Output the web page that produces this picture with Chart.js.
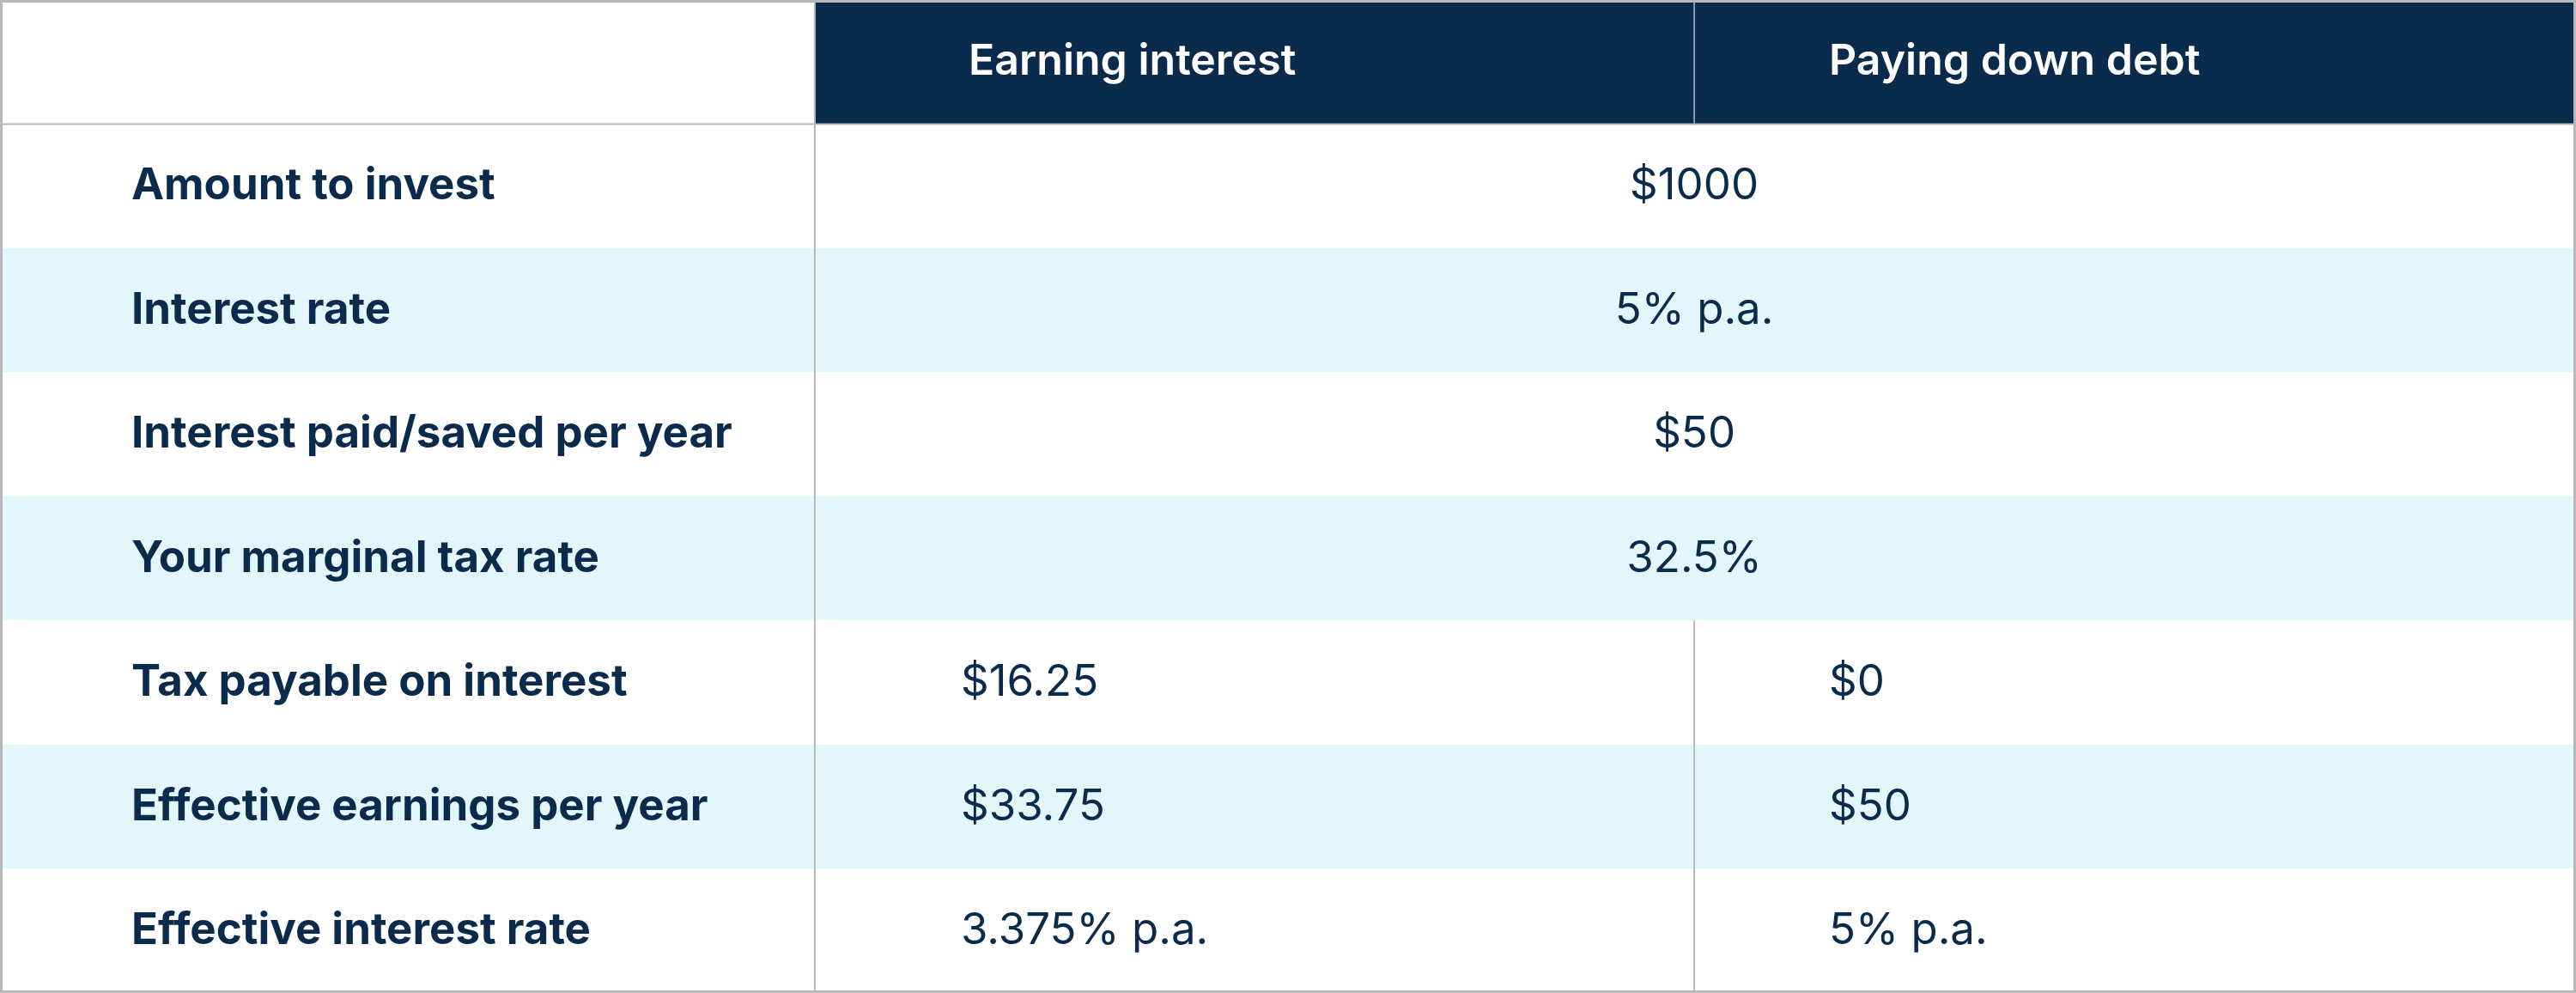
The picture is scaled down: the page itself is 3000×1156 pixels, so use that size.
<!DOCTYPE html>
<html><head><meta charset="utf-8">
<script src="https://cdn.jsdelivr.net/npm/chart.js@4"></script>
<style>html,body{margin:0;padding:0;background:#fff}#w{width:3000px;height:1156px}</style>
</head><body><div id="w"><canvas id="c"></canvas></div>
<script>
const rowLabels = ["Amount to invest","Interest rate","Interest paid/saved per year","Your marginal tax rate","Tax payable on interest","Effective earnings per year","Effective interest rate"];
const columnHeaders = ["Earning interest","Paying down debt"];
const earningValues = ["$1000","5% p.a.","$50","32.5%","$16.25","$33.75","3.375% p.a."];
const debtValues = [null,null,null,null,"$0","$50","5% p.a."];
const colEdges = [0, 0.3163, 0.6577, 1];
const NAVY = "#0b2b4c", LIGHT = "#e3f6fa", GRID = "#b8b8b8";
const cats = ["header", ...rowLabels];
const bg = cats.map((c,i)=> i===0 ? "#ffffff" : (i%2===0 ? LIGHT : "#ffffff"));
new Chart(document.getElementById("c"), {
  type: "bar",
  data: { labels: cats, datasets: [
    { data: cats.map(()=>[0,1]), backgroundColor: bg, grouped:false, categoryPercentage:1, barPercentage:1, order:2 },
    { data: cats.map((c,i)=> i===0 ? [colEdges[1],1] : null), backgroundColor: NAVY, grouped:false, categoryPercentage:1, barPercentage:1, order:1 }
  ]},
  options: {
    indexAxis: "y", responsive:true, maintainAspectRatio:false, animation:false,
    layout:{padding:0},
    plugins:{legend:{display:false}, tooltip:{enabled:false}},
    scales:{ x:{type:"linear",min:0,max:1,display:false}, y:{display:false, offset:true} }
  },
  plugins:[{ id:"table", afterDatasetsDraw(chart){
    const ctx = chart.ctx, xs = chart.scales.x, ys = chart.scales.y, ca = chart.chartArea;
    const band = (ys.getPixelForValue(1)-ys.getPixelForValue(0));
    const top = i => ys.getPixelForValue(i)-band/2;
    ctx.save();
    ctx.textBaseline = "middle";
    ctx.fillStyle = "#ffffff"; ctx.font = "600 50px Inter"; ctx.textAlign="left";
    ctx.fillText(columnHeaders[0], xs.getPixelForValue(0.376), ys.getPixelForValue(0));
    ctx.fillText(columnHeaders[1], xs.getPixelForValue(0.71), ys.getPixelForValue(0));
    rowLabels.forEach((l,k)=>{
      const i=k+1, y=ys.getPixelForValue(i);
      ctx.fillStyle = NAVY; ctx.font="700 51px Inter"; ctx.textAlign="left";
      ctx.fillText(l, xs.getPixelForValue(0.051), y);
      ctx.font="400 51px Inter";
      if (debtValues[k]===null){ ctx.textAlign="center"; ctx.fillText(earningValues[k], xs.getPixelForValue(colEdges[2]), y); }
      else { ctx.textAlign="left"; ctx.fillText(earningValues[k], xs.getPixelForValue(0.373), y); ctx.fillText(debtValues[k], xs.getPixelForValue(0.71), y); }
    });
    ctx.lineWidth = 2; ctx.strokeStyle = GRID;
    const x1 = xs.getPixelForValue(colEdges[1]), x2 = xs.getPixelForValue(colEdges[2]);
    ctx.beginPath(); ctx.moveTo(x1, ca.top); ctx.lineTo(x1, ca.bottom); ctx.stroke();
    ctx.beginPath(); ctx.moveTo(x2, top(5)); ctx.lineTo(x2, ca.bottom); ctx.stroke();
    ctx.beginPath(); ctx.moveTo(ca.left, top(1)); ctx.lineTo(ca.right, top(1)); ctx.stroke();
    ctx.strokeStyle = "#8a9bb0";
    ctx.beginPath(); ctx.moveTo(x2, ca.top); ctx.lineTo(x2, top(1)); ctx.stroke();
    ctx.strokeStyle = GRID; ctx.lineWidth = 3;
    ctx.strokeRect(ca.left+1.5, ca.top+1.5, ca.right-ca.left-3, ca.bottom-ca.top-3);
    ctx.restore();
  }}]
});
</script></body></html>
